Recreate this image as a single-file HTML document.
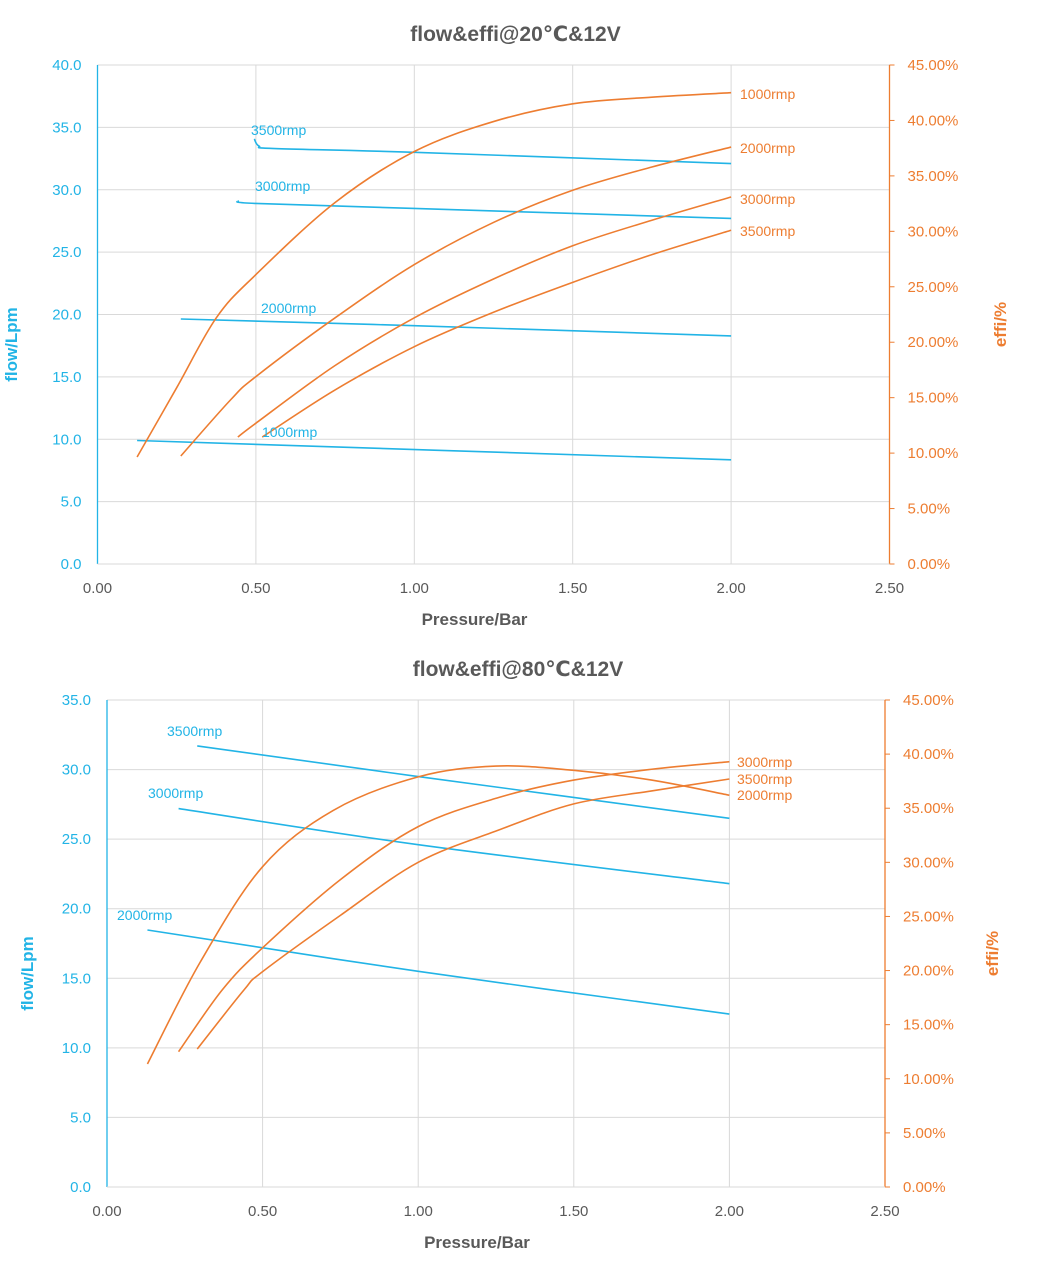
<!DOCTYPE html>
<html><head><meta charset="utf-8"><style>
body{margin:0;background:#fff;}
svg{display:block;font-family:"Liberation Sans","DejaVu Sans",sans-serif;}
</style></head><body>
<svg id="svg" width="1048" height="1278" viewBox="0 0 1048 1278"></svg>
<script>
// ---- data: top chart (20°C) ----
const topFlow1000P=[0.125,2.0], topFlow1000V=[9.9,8.35];
const topFlow2000P=[0.263,1.0,2.0], topFlow2000V=[19.64,19.1,18.28];
const topFlow3000P=[0.443,0.5,1.0,2.0], topFlow3000V=[29.1,28.9,28.5,27.7];
const topFlow3500P=[0.495,0.51,0.56,1.0,2.0], topFlow3500V=[34.07,33.5,33.3,33.0,32.1];
const topEff1000P=[0.125,0.25,0.375,0.5,0.75,1.0,1.25,1.5,1.75,2.0], topEff1000V=[9.65,15.9,22.2,26.1,32.6,37.2,39.9,41.5,42.1,42.5];
const topEff2000P=[0.263,0.42,0.5,0.75,1.0,1.25,1.5,1.75,2.0], topEff2000V=[9.74,14.8,16.9,22.2,27.0,30.8,33.7,35.8,37.6];
const topEff3000P=[0.443,0.5,0.75,1.0,1.25,1.5,1.75,2.0], topEff3000V=[11.45,12.7,17.9,22.2,25.7,28.7,31.0,33.1];
const topEff3500P=[0.52,0.75,1.0,1.25,1.5,1.75,2.0], topEff3500V=[11.45,15.7,19.6,22.7,25.4,27.9,30.1];
// ---- data: bottom chart (80°C) ----
const botFlow2000P=[0.13,1.0,2.0], botFlow2000V=[18.47,15.5,12.43];
const botFlow3000P=[0.23,1.0,2.0], botFlow3000V=[27.2,24.6,21.8];
const botFlow3500P=[0.29,1.0,2.0], botFlow3500V=[31.7,29.5,26.5];
const botEff2000P=[0.13,0.3,0.5,0.727,1.0,1.25,1.5,1.75,2.0], botEff2000V=[11.37,20.8,29.6,34.8,37.9,38.9,38.5,37.6,36.2];
const botEff3000P=[0.23,0.37,0.5,0.75,1.0,1.26,1.5,1.75,2.0], botEff3000V=[12.5,18.2,22.1,28.4,33.3,36.0,37.6,38.6,39.3];
const botEff3500P=[0.29,0.44,0.5,0.75,1.0,1.26,1.5,1.75,2.0], botEff3500V=[12.75,18.2,19.9,25.1,30.0,33.0,35.4,36.6,37.7];
const xTicks=["0.00","0.50","1.00","1.50","2.00","2.50"];
const topLeftTicks=["0.0","5.0","10.0","15.0","20.0","25.0","30.0","35.0","40.0"];
const botLeftTicks=["0.0","5.0","10.0","15.0","20.0","25.0","30.0","35.0"];
const rightTicks=["0.00%","5.00%","10.00%","15.00%","20.00%","25.00%","30.00%","35.00%","40.00%","45.00%"];

const NS="http://www.w3.org/2000/svg", svg=document.getElementById('svg');
const BLUE="#22b4e6", ORANGE="#ed7d31", GRAY="#595959";
function mk(tag,attrs,parent){const e=document.createElementNS(NS,tag);for(const k in attrs)e.setAttribute(k,attrs[k]);(parent||svg).appendChild(e);return e;}
function txt(s,x,y,attrs,parent){const t=mk('text',Object.assign({x:x,y:y},attrs),parent);t.textContent=s;return t;}
function smooth(pts){let d="M"+pts[0][0]+","+pts[0][1];
 for(let i=0;i<pts.length-1;i++){const p0=pts[i-1]||pts[i],p1=pts[i],p2=pts[i+1],p3=pts[i+2]||p2;
  const c1=[p1[0]+(p2[0]-p0[0])/6,p1[1]+(p2[1]-p0[1])/6],c2=[p2[0]-(p3[0]-p1[0])/6,p2[1]-(p3[1]-p1[1])/6];
  d+=" C"+c1[0]+","+c1[1]+" "+c2[0]+","+c2[1]+" "+p2[0]+","+p2[1];}return d;}

function chart(c){
 const g=mk('g',{});
 
 
 const X=p=>c.x0+(c.x1-c.x0)*p/2.5, YL=v=>c.yb-(c.yb-c.yt)*v/c.lmax, YR=e=>c.yb-(c.yb-c.yt)*e/45;
 xTicks.forEach((t,i)=>{const p=i*0.5;if(i>0){const l=mk('line',{x1:X(p),x2:X(p),y1:c.yt,y2:c.yb,stroke:"#d9d9d9","stroke-width":1},g);
  }
  const tl=txt(t,X(p),c.yb+29,{"font-size":15,fill:GRAY,"text-anchor":"middle"},g);
  });
 c.lt.forEach((t,i)=>{const v=i*5,y=YL(v);
  if(i>0){const l=mk('line',{x1:c.x0,x2:c.x1,y1:y,y2:y,stroke:"#d9d9d9","stroke-width":1},g);
  }
  const tl=txt(t,c.x0-16,y+5,{"font-size":15,fill:BLUE,"text-anchor":"end"},g);
  });
 rightTicks.forEach((t,i)=>{const y=YR(i*5);
  const tl=txt(t,c.x1+18,y+5,{"font-size":15,fill:ORANGE},g);
  
  mk('line',{x1:c.x1,x2:c.x1+5,y1:y,y2:y,stroke:ORANGE,"stroke-width":1},g);});
 const la=mk('line',{x1:c.x0,x2:c.x0,y1:c.yt,y2:c.yb,stroke:BLUE,"stroke-width":1.3},g);
 
 const ra=mk('line',{x1:c.x1,x2:c.x1,y1:c.yt,y2:c.yb,stroke:ORANGE,"stroke-width":1.3},g);
 
 const xa=mk('line',{x1:c.x0,x2:c.x1,y1:c.yb,y2:c.yb,stroke:"#d9d9d9","stroke-width":1},g);
 
 c.flows.forEach(s=>{const p=mk('path',{d:smooth(s[0].map((q,i)=>[X(q),YL(s[1][i])])),fill:"none",stroke:BLUE,"stroke-width":1.6},g);
  });
 c.effs.forEach(s=>{const p=mk('path',{d:smooth(s[0].map((q,i)=>[X(q),YR(s[1][i])])),fill:"none",stroke:ORANGE,"stroke-width":1.6},g);
  });
 c.labels.forEach(l=>{const t=txt(l[0],l[1],l[2],{"font-size":14,fill:l[3]},g);
  });
 const ti=txt(c.title,(c.x0+c.x1)/2+22,c.yt-24,{"font-size":21,"font-weight":"bold",fill:GRAY,"text-anchor":"middle"},g);
 
 const xt=txt("Pressure/Bar",(c.x0+c.x1)/2-19,c.yb+61,{"font-size":17,"font-weight":"bold",fill:GRAY,"text-anchor":"middle"},g);
 
 const ym=(c.yt+c.yb)/2+30;
 const yl=txt("flow/Lpm",c.ylx,ym,{"font-size":17,"font-weight":"bold",fill:BLUE,"text-anchor":"middle",transform:"rotate(-90 "+c.ylx+" "+ym+")"},g);
 
 const yr=txt("effi/%",c.yrx,ym-20,{"font-size":17,"font-weight":"bold",fill:ORANGE,"text-anchor":"middle",transform:"rotate(-90 "+c.yrx+" "+(ym-20)+")"},g);
 
}
chart({name:"chart-20c",title:"flow&effi@20℃&12V",x0:97.5,x1:889.5,yt:65,yb:564,lmax:40,lt:topLeftTicks,ylx:17,yrx:1006,
 flows:[[topFlow1000P,topFlow1000V,"1000"],[topFlow2000P,topFlow2000V,"2000"],[topFlow3000P,topFlow3000V,"3000"],[topFlow3500P,topFlow3500V,"3500"]],
 effs:[[topEff1000P,topEff1000V,"1000"],[topEff2000P,topEff2000V,"2000"],[topEff3000P,topEff3000V,"3000"],[topEff3500P,topEff3500V,"3500"]],
 labels:[["3500rmp",251,135,BLUE],["3000rmp",255,191,BLUE],["2000rmp",261,313,BLUE],["1000rmp",262,437,BLUE],
  ["1000rmp",740,99,ORANGE],["2000rmp",740,153,ORANGE],["3000rmp",740,204,ORANGE],["3500rmp",740,236,ORANGE]]});
chart({name:"chart-80c",title:"flow&effi@80℃&12V",x0:107,x1:885,yt:700,yb:1187,lmax:35,lt:botLeftTicks,ylx:33,yrx:998,
 flows:[[botFlow2000P,botFlow2000V,"2000"],[botFlow3000P,botFlow3000V,"3000"],[botFlow3500P,botFlow3500V,"3500"]],
 effs:[[botEff2000P,botEff2000V,"2000"],[botEff3000P,botEff3000V,"3000"],[botEff3500P,botEff3500V,"3500"]],
 labels:[["3500rmp",167,736,BLUE],["3000rmp",148,798,BLUE],["2000rmp",117,920,BLUE],
  ["3000rmp",737,767,ORANGE],["3500rmp",737,784,ORANGE],["2000rmp",737,800,ORANGE]]});
</script>
</body></html>
